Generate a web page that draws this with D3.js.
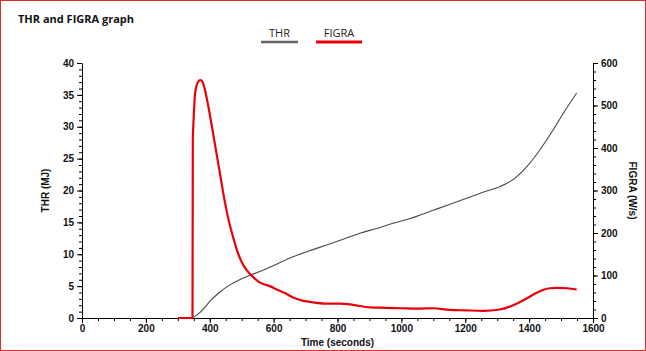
<!DOCTYPE html>
<html><head><meta charset="utf-8">
<script src="https://cdn.jsdelivr.net/npm/d3@7"></script>
<style>
html,body{margin:0;padding:0;background:#fff;}
svg{display:block;}
text{font-family:"Liberation Sans",Arial,sans-serif;}
</style></head>
<body>
<svg id="chart" width="646" height="351"></svg>
<script>
// ---- data ----
const thrTime  = [345,360,380,400,430,463,495,526,557,588,620,661,710,766,820,870,920,974,1027,1100,1150,1204,1260,1308,1355,1392,1434,1475,1517,1549];
const thrValue = [0,0.5,1.4,2.6,4.0,5.2,6.05,6.7,7.3,7.95,8.7,9.6,10.5,11.45,12.4,13.3,14.0,14.85,15.6,16.9,17.8,18.8,19.8,20.6,21.9,23.7,26.4,29.5,32.9,35.3];
const figraTime  = [300,345,346,347,349,354,360,366,371,377,385,392,400,411,421,432,442,452,463,474,484,500,515,535,550,567,588,610,640,661,690,714,766,808,849,901,950,1000,1050,1100,1152,1200,1256,1308,1350,1392,1420,1443,1465,1486,1520,1549];
const figraValue = [0,0,0,420,460,528,550,558,560,556,537,512,480,432,388,340,295,255,218,188,162,132,113,97,87,80,75,67,57,48,41,38,34,34,31,25,24,23,22,23,19,18,17,20,30,46,58,66,70,71,70,67];
const xTicks = [0,200,400,600,800,1000,1200,1400,1600];
const leftTicks = [0,5,10,15,20,25,30,35,40];
const rightTicks = [0,100,200,300,400,500,600];
const seriesNames = ["THR","FIGRA"];
const seriesColors = ["#4a4a4a","#e8000b"];

const svg = d3.select("#chart");
const L=82, R=593, T=63, B=318;
const x = d3.scaleLinear().domain([0,1600]).range([L,R]);
const yL = d3.scaleLinear().domain([0,40]).range([B,T]);
const yR = d3.scaleLinear().domain([0,600]).range([B,T]);

// border
svg.append("rect").attr("x",0.5).attr("y",0.5).attr("width",645).attr("height",350)
  .attr("fill","none").attr("stroke","#d9302c").attr("stroke-width",1);

// title
svg.append("text").attr("x",18).attr("y",23).attr("font-size",11).attr("font-weight","bold")
  .style("font-family","'Open Sans',sans-serif").attr("fill","#111").text("THR and FIGRA graph");

// legend
const leg = [{x:261,w:37},{x:316,w:46}];
seriesNames.forEach((n,i)=>{
  const g = svg.append("g");
  g.append("text").attr("x",leg[i].x+leg[i].w/2).attr("y",37).attr("text-anchor","middle")
   .attr("font-size",11).style("font-family","'Open Sans',sans-serif").attr("fill","#222").text(n);
  g.append("line").attr("x1",leg[i].x).attr("x2",leg[i].x+leg[i].w).attr("y1",42).attr("y2",42)
   .attr("stroke",i?seriesColors[i]:"#666").attr("stroke-width",i?3:2.5);
});

function styleAxis(g){
  g.selectAll("path.domain").attr("stroke","#000");
  g.selectAll("line").attr("stroke","#000");
  g.selectAll("text").attr("font-size",10).attr("font-weight","bold").attr("fill","#111");
}
// minor ticks
const gx = svg.append("g").attr("transform",`translate(0,${B})`);
gx.call(d3.axisBottom(x).tickValues(d3.range(0,1601,50)).tickSize(3).tickFormat(""));
gx.call(g=>g.select(".domain").remove());
const gxM = svg.append("g").attr("transform",`translate(0,${B})`)
  .call(d3.axisBottom(x).tickValues(xTicks).tickSize(5).tickSizeOuter(0).tickPadding(2).tickFormat(d3.format("d")));
styleAxis(gx); styleAxis(gxM);

const gl = svg.append("g").attr("transform",`translate(${L},0)`);
gl.call(d3.axisLeft(yL).tickValues(d3.range(0,41,1)).tickSize(3).tickFormat(""));
gl.call(g=>g.select(".domain").remove());
const glM = svg.append("g").attr("transform",`translate(${L},0)`)
  .call(d3.axisLeft(yL).tickValues(leftTicks).tickSize(5).tickSizeOuter(0).tickPadding(3));
styleAxis(gl); styleAxis(glM);

const gr = svg.append("g").attr("transform",`translate(${R},0)`);
gr.call(d3.axisRight(yR).tickValues(d3.range(0,601,20)).tickSize(3).tickFormat(""));
gr.call(g=>g.select(".domain").remove());
const grM = svg.append("g").attr("transform",`translate(${R},0)`)
  .call(d3.axisRight(yR).tickValues(rightTicks).tickSize(5).tickSizeOuter(0).tickPadding(3));
styleAxis(gr); styleAxis(grM);

// axis labels
svg.append("text").attr("transform",`translate(49,${(T+B)/2}) rotate(-90)`).attr("text-anchor","middle")
  .attr("font-size",10).attr("font-weight","bold").attr("fill","#111").text("THR (MJ)");
svg.append("text").attr("transform",`translate(629,${(T+B)/2}) rotate(90)`).attr("text-anchor","middle")
  .attr("font-size",10).attr("font-weight","bold").attr("fill","#111").text("FIGRA (W/s)");
svg.append("text").attr("x",(L+R)/2).attr("y",346).attr("text-anchor","middle")
  .attr("font-size",10).attr("font-weight","bold").attr("fill","#111").text("Time (seconds)");

// lines
const thr = thrTime.map((t,i)=>[t,thrValue[i]]);
const fig = figraTime.map((t,i)=>[t,figraValue[i]]);
svg.append("path").datum(thr).attr("fill","none").attr("stroke",seriesColors[0]).attr("stroke-width",1.1)
  .attr("d",d3.line().x(d=>x(d[0])).y(d=>yL(d[1])).curve(d3.curveMonotoneX));
svg.append("path").datum(fig).attr("fill","none").attr("stroke",seriesColors[1]).attr("stroke-width",2.2)
  .attr("stroke-linejoin","round")
  .attr("d",d3.line().x(d=>x(d[0])).y(d=>yR(d[1])).curve(d3.curveMonotoneX));
</script>
</body></html>
